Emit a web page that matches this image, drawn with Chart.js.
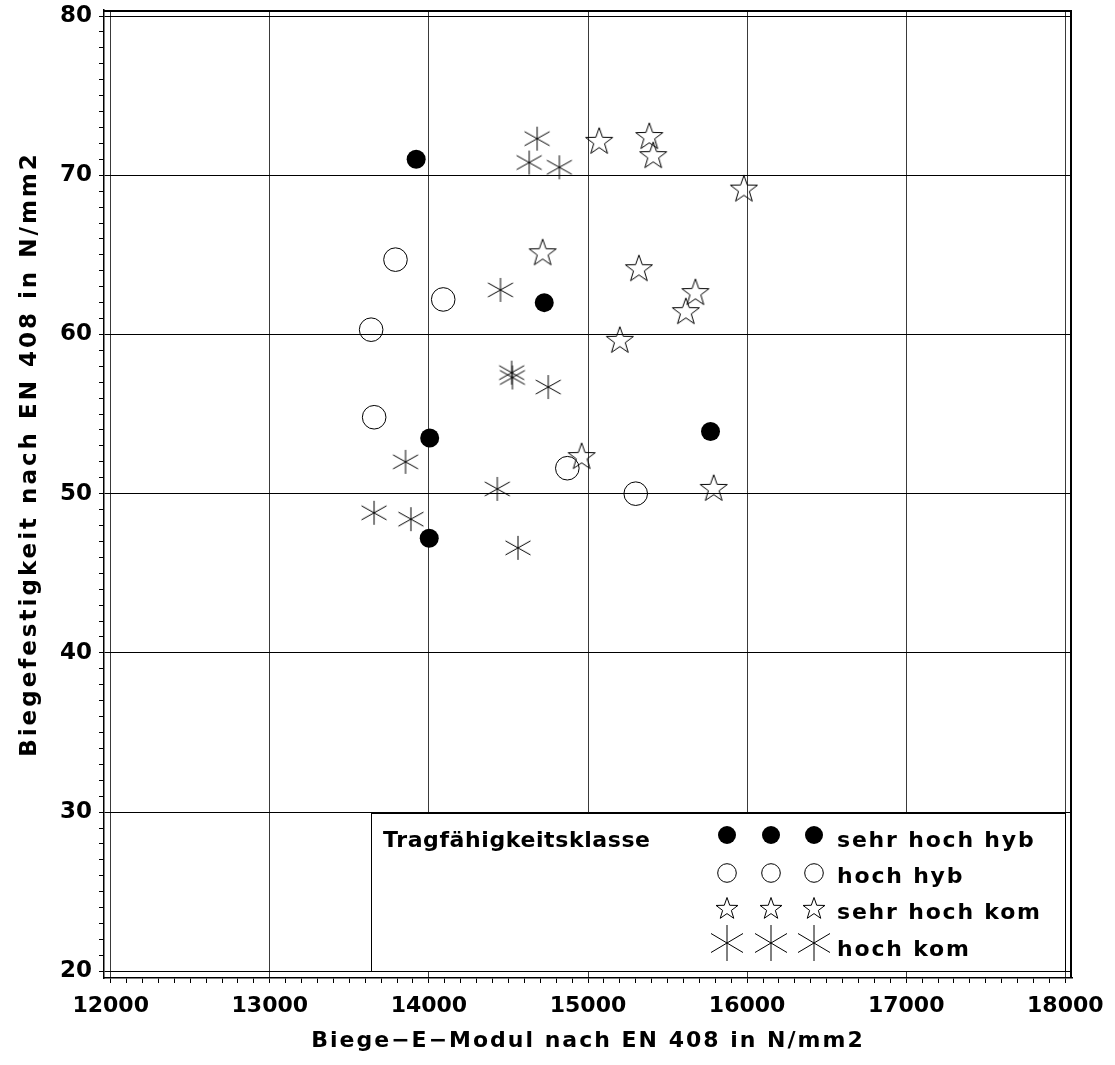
<!DOCTYPE html>
<html>
<head>
<meta charset="utf-8">
<script src="https://cdn.jsdelivr.net/npm/chart.js@4.4.1/dist/chart.umd.min.js"></script>
<style>
  html, body { margin: 0; padding: 0; background: #fff; }
  canvas { display: block; }
</style>
</head>
<body>
<canvas id="chart" width="1115" height="1065"></canvas>
<script>
// Biege-E-Modul gegen Biegefestigkeit, gruppiert nach Tragfähigkeitsklasse
const seriesNames = ['sehr hoch hyb', 'hoch hyb', 'sehr hoch kom', 'hoch kom'];

const sehrHochHybE = [13920, 14725, 14005, 15770, 14002];
const sehrHochHybF = [71.0, 62.0, 53.5, 53.9, 47.2];

const hochHybE = [13790, 14090, 13637, 13656, 14870, 15300];
const hochHybF = [64.7, 62.2, 60.3, 54.8, 51.6, 50.0];

const sehrHochKomE = [15070, 15385, 15410, 15980, 14715, 15320, 15675, 15615, 15200, 14960, 15790];
const sehrHochKomF = [72.1, 72.4, 71.2, 69.1, 65.1, 64.1, 62.6, 61.4, 59.6, 52.3, 50.3];

const hochKomE = [14680, 14630, 14820, 14450, 14520, 14525, 14750, 13853, 14430, 13655, 13887, 14560];
const hochKomF = [72.3, 70.8, 70.5, 62.8, 57.6, 57.3, 56.7, 52.0, 50.3, 48.8, 48.4, 46.6];

const xTickValues = [12000, 13000, 14000, 15000, 16000, 17000, 18000];
const yTickValues = [20, 30, 40, 50, 60, 70, 80];
const minorParts = 10;

const xTitle = 'Biege\u2212E\u2212Modul nach EN 408 in N/mm2';
const yTitle = 'Biegefestigkeit nach EN 408 in N/mm2';
const legendTitle = 'Tragfähigkeitsklasse';

const FONT = '"DejaVu Sans", sans-serif';

function toPoints(xs, ys) {
  return xs.map((x, i) => ({ x: x, y: ys[i] }));
}

// major ticks carry labels and grid lines, the ones between are short marks only
function withMinor(major, parts) {
  const out = [];
  for (let i = 0; i < major.length; i++) {
    out.push({ value: major[i], main: true });
    if (i < major.length - 1) {
      const step = (major[i + 1] - major[i]) / parts;
      for (let k = 1; k < parts; k++) out.push({ value: major[i] + k * step, main: false });
    }
  }
  return out;
}

// outlined five-pointed star
function makeStar(R, lw) {
  const size = 2 * Math.ceil(R + 2);
  const c = document.createElement('canvas');
  c.width = c.height = size;
  const g = c.getContext('2d');
  const cx = size / 2, cy = size / 2, r = R * 0.4;
  g.beginPath();
  for (let i = 0; i < 10; i++) {
    const rad = i % 2 ? r : R;
    const a = -Math.PI / 2 + i * Math.PI / 5;
    g.lineTo(cx + rad * Math.cos(a), cy + rad * Math.sin(a));
  }
  g.closePath();
  g.lineWidth = lw;
  g.strokeStyle = '#000';
  g.stroke();
  return c;
}

// six-armed asterisk: one vertical stroke and two slanted strokes
function makeAsterisk(halfH, dx, dy, lw) {
  const size = 2 * Math.ceil(Math.max(halfH, dx) + 2);
  const c = document.createElement('canvas');
  c.width = c.height = size;
  const g = c.getContext('2d');
  const cx = size / 2, cy = size / 2;
  g.beginPath();
  g.moveTo(cx, cy - halfH); g.lineTo(cx, cy + halfH);
  g.moveTo(cx - dx, cy - dy); g.lineTo(cx + dx, cy + dy);
  g.moveTo(cx - dx, cy + dy); g.lineTo(cx + dx, cy - dy);
  g.lineWidth = lw;
  g.strokeStyle = '#000';
  g.stroke();
  return c;
}

const starPlot = makeStar(14.2, 1);
const starLegend = makeStar(11.5, 1);
const asteriskPlot = makeAsterisk(12, 12.5, 7, 1);
const asteriskLegend = makeAsterisk(18, 16, 9.5, 1);

const legendItems = [
  { text: seriesNames[0], style: 'circle', radius: 9, fill: '#000', border: 0 },
  { text: seriesNames[1], style: 'circle', radius: 9.3, fill: 'rgba(0,0,0,0)', border: 1 },
  { text: seriesNames[2], style: starLegend, radius: 11, fill: 'rgba(0,0,0,0)', border: 0 },
  { text: seriesNames[3], style: asteriskLegend, radius: 16, fill: 'rgba(0,0,0,0)', border: 0 }
];

// closed frame around the plotting area
const framePlugin = {
  id: 'frame',
  afterDraw(chart) {
    const { ctx, chartArea: a } = chart;
    ctx.save();
    ctx.strokeStyle = '#000';
    ctx.lineWidth = 2;
    ctx.beginPath();
    ctx.moveTo(a.left, a.top + 1);
    ctx.lineTo(a.right - 1, a.top + 1);
    ctx.lineTo(a.right - 1, a.bottom);
    ctx.stroke();
    ctx.restore();
  }
};

// axis captions
const titlesPlugin = {
  id: 'axisTitles',
  afterDraw(chart) {
    const { ctx, chartArea: a } = chart;
    ctx.save();
    ctx.fillStyle = '#000';
    ctx.textAlign = 'center';
    ctx.textBaseline = 'middle';
    ctx.font = 'bold 22px ' + FONT;
    ctx.letterSpacing = '2px';
    ctx.fillText(xTitle, (a.left + a.right) / 2, 1041);
    ctx.font = 'bold 23px ' + FONT;
    ctx.letterSpacing = '3px';
    ctx.translate(30, 454);
    ctx.rotate(-Math.PI / 2);
    ctx.fillText(yTitle, 0, 0);
    ctx.restore();
  }
};

// boxed legend in the lower right corner of the plot
const legendPlugin = {
  id: 'boxLegend',
  afterDraw(chart) {
    const { ctx } = chart;
    const xs = chart.scales.x, ys = chart.scales.y;
    const right = xs.getPixelForValue(xTickValues[xTickValues.length - 1]);
    const bottom = ys.getPixelForValue(yTickValues[0]);
    const left = 371, top = 813;
    ctx.save();
    ctx.fillStyle = '#fff';
    ctx.fillRect(left, top, right - left, bottom - top);
    ctx.strokeStyle = '#000';
    ctx.lineWidth = 1;
    ctx.strokeRect(Math.round(left) + 0.5, Math.round(top) + 0.5, Math.round(right - left), Math.round(bottom - top));

    ctx.fillStyle = '#000';
    ctx.textAlign = 'left';
    ctx.textBaseline = 'alphabetic';
    ctx.letterSpacing = '0.6px';
    ctx.font = 'bold 22px ' + FONT;
    ctx.fillText(legendTitle, 383, 847);

    const symbolX = [727, 771, 814];
    const symbolY = [835, 873, 909, 943];
    const baseY = [847, 883, 919, 956];
    ctx.letterSpacing = '1.8px';
    ctx.font = 'bold 22px ' + FONT;
    legendItems.forEach((item, r) => {
      symbolX.forEach(sx => {
        ctx.save();
        ctx.fillStyle = item.fill;
        ctx.strokeStyle = '#000';
        ctx.lineWidth = item.border;
        Chart.helpers.drawPoint(ctx, {
          pointStyle: item.style, radius: item.radius, rotation: 0, borderWidth: item.border
        }, sx, symbolY[r]);
        ctx.restore();
      });
      ctx.fillStyle = '#000';
      ctx.fillText(item.text, 837, baseY[r]);
    });
    ctx.restore();
  }
};

new Chart(document.getElementById('chart'), {
  type: 'scatter',
  data: {
    datasets: [
      {
        label: seriesNames[0],
        data: toPoints(sehrHochHybE, sehrHochHybF),
        pointStyle: 'circle', pointRadius: 9.5,
        backgroundColor: '#000', borderColor: '#000', borderWidth: 0
      },
      {
        label: seriesNames[1],
        data: toPoints(hochHybE, hochHybF),
        pointStyle: 'circle', pointRadius: 11.8,
        backgroundColor: 'rgba(0,0,0,0)', borderColor: '#000', borderWidth: 1
      },
      {
        label: seriesNames[2],
        data: toPoints(sehrHochKomE, sehrHochKomF),
        pointStyle: starPlot, pointRadius: 14,
        backgroundColor: 'rgba(0,0,0,0)', borderColor: '#000', borderWidth: 1
      },
      {
        label: seriesNames[3],
        data: toPoints(hochKomE, hochKomF),
        pointStyle: asteriskPlot, pointRadius: 13,
        backgroundColor: 'rgba(0,0,0,0)', borderColor: '#000', borderWidth: 1
      }
    ]
  },
  options: {
    responsive: false,
    animation: false,
    events: [],
    layout: { autoPadding: false, padding: { left: 0, right: 43, top: 10, bottom: 0 } },
    plugins: {
      legend: { display: false },
      tooltip: { enabled: false },
      title: { display: false }
    },
    scales: {
      x: {
        type: 'linear',
        position: 'bottom',
        min: 11958,
        max: 18042,
        afterBuildTicks: s => { s.ticks = withMinor(xTickValues, minorParts); },
        afterFit: s => { s.height = 87; s.paddingLeft = 0; s.paddingRight = 0; },
        grid: {
          color: c => (c.tick && c.tick.main) ? '#3a3a3a' : 'rgba(0,0,0,0)',
          tickColor: '#000',
          tickLength: 5,
          lineWidth: 1
        },
        border: { display: true, color: '#000', width: 1.5 },
        ticks: {
          autoSkip: false,
          maxRotation: 0,
          padding: 10,
          color: '#000',
          font: { family: FONT, size: 22, weight: 'bold' },
          callback: (v, i, ticks) => ticks[i].main ? String(v) : ''
        }
      },
      y: {
        type: 'linear',
        position: 'left',
        min: 19.58,
        max: 80.38,
        afterBuildTicks: s => { s.ticks = withMinor(yTickValues, minorParts); },
        afterFit: s => { s.width = 104; s.paddingTop = 0; s.paddingBottom = 0; },
        grid: {
          color: c => (c.tick && c.tick.main) ? '#000' : 'rgba(0,0,0,0)',
          tickColor: '#000',
          tickLength: 5,
          lineWidth: 1
        },
        border: { display: true, color: '#000', width: 1.5 },
        ticks: {
          autoSkip: false,
          padding: 7,
          color: '#000',
          font: { family: FONT, size: 23, weight: 'bold' },
          callback: (v, i, ticks) => ticks[i].main ? String(v) : ''
        }
      }
    }
  },
  plugins: [framePlugin, legendPlugin, titlesPlugin]
});
</script>
</body>
</html>
